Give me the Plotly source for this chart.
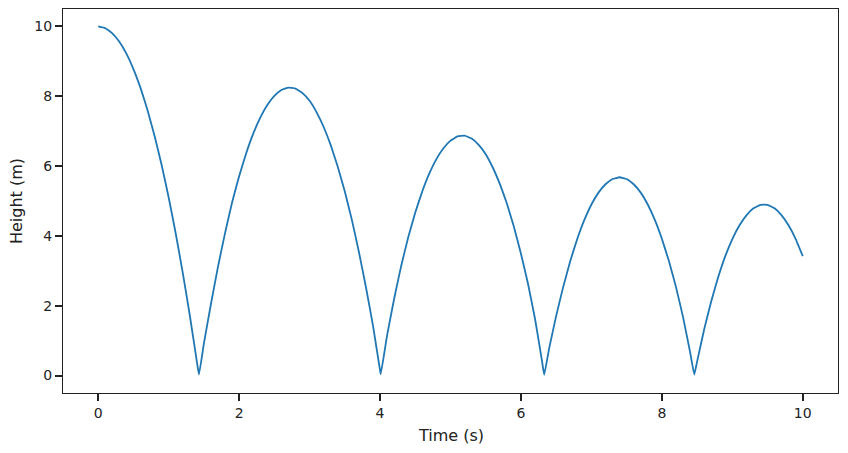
import plotly.graph_objects as go

# Time samples (s) and heights (m)
time_s = [0.0, 0.1, 0.2, 0.3, 0.4, 0.5, 0.6, 0.7, 0.8, 0.9, 1.0, 1.1, 1.2, 1.3, 1.4, 1.43,
          1.5, 1.6, 1.7, 1.8, 1.9, 2.0, 2.1, 2.2, 2.3, 2.4, 2.5, 2.6, 2.7, 2.8, 2.9,
          3.0, 3.1, 3.2, 3.3, 3.4, 3.5, 3.6, 3.7, 3.8, 3.9, 4.0, 4.01,
          4.1, 4.2, 4.3, 4.4, 4.5, 4.6, 4.7, 4.8, 4.9, 5.0, 5.1, 5.2, 5.3, 5.4,
          5.5, 5.6, 5.7, 5.8, 5.9, 6.0, 6.1, 6.2, 6.3, 6.33,
          6.4, 6.5, 6.6, 6.7, 6.8, 6.9, 7.0, 7.1, 7.2, 7.3, 7.4, 7.5, 7.6, 7.7,
          7.8, 7.9, 8.0, 8.1, 8.2, 8.3, 8.4, 8.46,
          8.5, 8.6, 8.7, 8.8, 8.9, 9.0, 9.1, 9.2, 9.3, 9.4, 9.5, 9.6, 9.7, 9.8,
          9.9, 10.0]
height_m = [10.0, 9.95, 9.80, 9.56, 9.22, 8.78, 8.24, 7.60, 6.86, 6.03, 5.10, 4.07, 2.94, 1.72, 0.40, 0.03,
            0.92, 2.05, 3.12, 4.08, 4.96, 5.71, 6.37, 6.93, 7.39, 7.75, 8.01, 8.18, 8.25, 8.22, 8.09,
            7.87, 7.54, 7.12, 6.60, 5.98, 5.27, 4.46, 3.54, 2.53, 1.43, 0.15, 0.04,
            1.15, 2.20, 3.14, 3.96, 4.67, 5.28, 5.79, 6.20, 6.51, 6.73, 6.85, 6.87, 6.79, 6.61,
            6.34, 5.96, 5.49, 4.93, 4.26, 3.49, 2.63, 1.62, 0.40, 0.02,
            0.78, 1.71, 2.54, 3.28, 3.92, 4.46, 4.90, 5.24, 5.48, 5.63, 5.68, 5.63, 5.48, 5.24,
            4.90, 4.46, 3.92, 3.28, 2.54, 1.68, 0.68, 0.03,
            0.40, 1.32, 2.12, 2.82, 3.42, 3.91, 4.30, 4.59, 4.79, 4.89, 4.89, 4.79, 4.59, 4.30,
            3.91, 3.42]

x_ticks = [0, 2, 4, 6, 8, 10]
y_ticks = [0, 2, 4, 6, 8, 10]
x_title = "Time (s)"
y_title = "Height (m)"

fig = go.Figure()
fig.add_trace(go.Scatter(x=time_s, y=height_m, mode="lines",
                         line=dict(color="#1f77b4", width=1.8, shape="spline", smoothing=0.3),
                         showlegend=False, hoverinfo="skip"))

axis_common = dict(showgrid=False, zeroline=False, showline=True, linecolor="#222222",
                   linewidth=1.3, mirror=True, ticks="outside", ticklen=7, tickwidth=1.6,
                   tickcolor="#222222", automargin=False,
                   tickfont=dict(family="DejaVu Sans", size=14, color="#222222"))

fig.update_xaxes(range=[-0.5, 10.5], tickvals=x_ticks, ticktext=[str(v) for v in x_ticks],
                 **axis_common)
fig.update_yaxes(range=[-0.5, 10.5], tickvals=y_ticks, ticktext=[str(v) for v in y_ticks],
                 **axis_common)

title_font = dict(family="DejaVu Sans", size=16, color="#222222")
fig.add_annotation(text=x_title, xref="paper", yref="paper", x=0.5, y=0,
                   xanchor="center", yanchor="middle", yshift=-42, showarrow=False, font=title_font)
fig.add_annotation(text=y_title, xref="paper", yref="paper", x=0, y=0.5, textangle=-90,
                   xanchor="center", yanchor="middle", xshift=-47, showarrow=False, font=title_font)

fig.update_layout(width=848, height=453, plot_bgcolor="white", paper_bgcolor="white",
                  margin=dict(l=63, r=10, t=9, b=60),
                  font=dict(family="DejaVu Sans", color="#222222"))

fig.write_html("out.html", config={"displayModeBar": False},
               post_script="document.body.style.margin='0';")
